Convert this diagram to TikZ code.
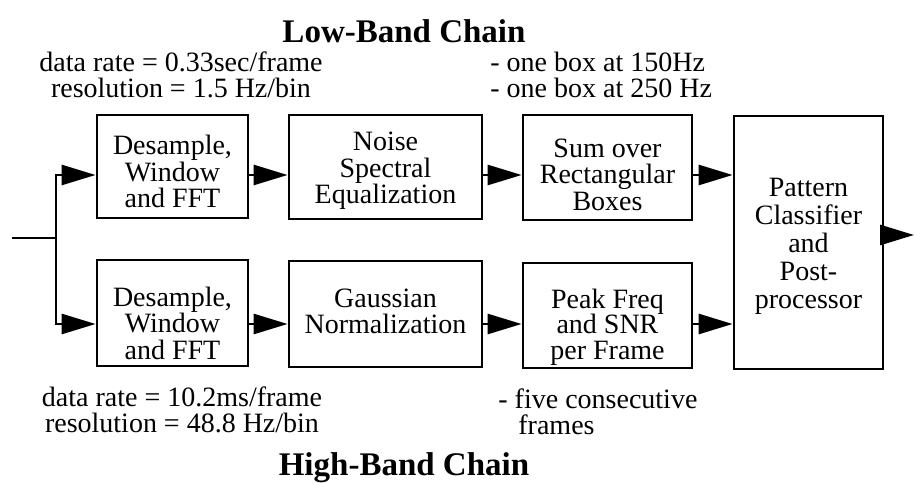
\documentclass[tikz,border=0pt]{standalone}
\usepackage{fontspec}
\setmainfont{Liberation Serif}
\usetikzlibrary{arrows.meta,calc}
\begin{document}
\begin{tikzpicture}[x=0.5bp,y=-0.5bp,
  box/.style={draw, line width=1.4bp, inner sep=0pt},
  btxt/.style={align=center, inner sep=0pt, font=\fontsize{14bp}{13.25bp}\selectfont},
  ann/.style={font=\fontsize{14bp}{12.75bp}\selectfont, inner sep=0pt},
  ttl/.style={font=\fontsize{16.5bp}{18bp}\selectfont\bfseries, inner sep=0pt},
  arr/.style={line width=1.4bp, -{Triangle[length=17bp,width=10bp]}},
  ln/.style={line width=1.4bp}]
\useasboundingbox (0,0) rectangle (914,483);
% titles
\node[ttl] (lowt) at (404,31) {Low-Band Chain};
\node[ttl] (hight) at (404,468) {High-Band Chain};
% annotations
\node[ann, align=center] (ann1) at (181,75) {data rate = 0.33sec/frame\\resolution = 1.5 Hz/bin};
\node[ann, align=left, anchor=west] (ann2) at (490,75) {- one box at 150Hz\\- one box at 250 Hz};
\node[ann, align=center] (ann3) at (182,410) {data rate = 10.2ms/frame\\resolution = 48.8 Hz/bin};
\node[ann, align=left, anchor=west] (ann4) at (498,412) {- five consecutive\\\hspace*{10bp}frames};
% boxes
\node[box, minimum width=75.5bp, minimum height=51.5bp] (A1) at (172.5,166.5) {};
\node[box, minimum width=96.5bp, minimum height=52bp] (B1) at (385.5,167) {};
\node[box, minimum width=84.5bp, minimum height=52.5bp] (C1) at (607.5,167.5) {};
\node[box, minimum width=74.5bp, minimum height=126.5bp] (D) at (808.5,242.5) {};
\node[box, minimum width=75.5bp, minimum height=53bp] (A2) at (172.5,313) {};
\node[box, minimum width=96.5bp, minimum height=53bp] (B2) at (385.5,314) {};
\node[box, minimum width=84.5bp, minimum height=52.5bp] (C2) at (607.5,315.5) {};
% box texts
\node[btxt] (A1t) at ($(A1.center)+(0,5)$) {Desample,\\Window\\and FFT};
\node[btxt] (B1t) at ($(B1.center)+(0,4)$) {Noise\\Spectral\\Equalization};
\node[btxt] (C1t) at ($(C1.center)+(0,7)$) {Sum over\\Rectangular\\Boxes};
\node[btxt, font=\fontsize{14bp}{14bp}\selectfont] (Dt) at ($(D.center)+(0,3.5)$) {Pattern\\Classifier\\and\\Post-\\processor};
\node[btxt] (A2t) at ($(A2.center)+(0,10)$) {Desample,\\Window\\and FFT};
\node[btxt] (B2t) at ($(B2.center)+(0,-2.5)$) {Gaussian\\Normalization};
\node[btxt, font=\fontsize{14bp}{12.75bp}\selectfont] (C2t) at ($(C2.center)+(0,11.5)$) {Peak Freq\\and SNR\\per Frame};
% helper coordinates
\coordinate (ytop) at (0,175);
\coordinate (ybot) at (0,324);
\coordinate (yout) at (0,235);
\coordinate (in) at (12,238);
\coordinate (split) at (56,238);
\coordinate (out) at (914,235);
% connectors
\draw[ln] (in) -- (split);
\draw[arr] (split) |- (A1.west |- ytop);
\draw[arr] (split) |- (A2.west |- ybot);
\draw[arr] (A1.east |- ytop) -- (B1.west |- ytop);
\draw[arr] (B1.east |- ytop) -- (C1.west |- ytop);
\draw[arr] (C1.east |- ytop) -- (D.west |- ytop);
\draw[arr] (A2.east |- ybot) -- (B2.west |- ybot);
\draw[arr] (B2.east |- ybot) -- (C2.west |- ybot);
\draw[arr] (C2.east |- ybot) -- (D.west |- ybot);
\draw[arr] (D.east |- yout) -- (out);
\end{tikzpicture}
\end{document}
